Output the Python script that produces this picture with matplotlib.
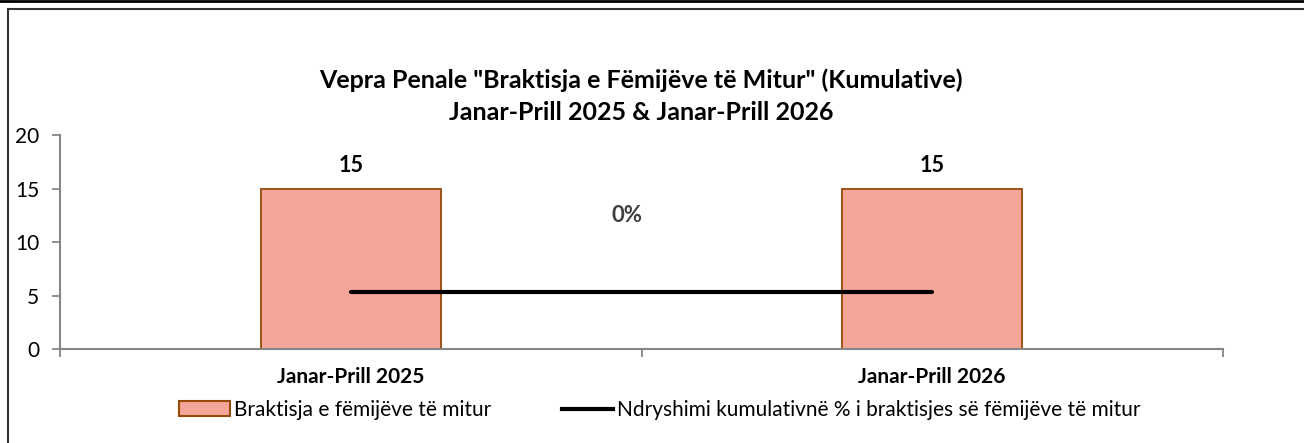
import matplotlib
matplotlib.use("Agg")
import matplotlib.pyplot as plt
from matplotlib.lines import Line2D
from matplotlib.patches import Patch

plt.rcParams['font.family'] = ['Lato', 'DejaVu Sans']

categories = ["Janar-Prill 2025", "Janar-Prill 2026"]
values = [15, 15]
pct_change = [0, 0]
pct_label = "0%"
title_lines = ['Vepra Penale "Braktisja e Fëmijëve të Mitur" (Kumulative)',
               'Janar-Prill 2025 & Janar-Prill 2026']
bar_name = "Braktisja e fëmijëve të mitur"
line_name = "Ndryshimi kumulativnë % i braktisjes së fëmijëve të mitur"

W, H = 1304, 443
fig = plt.figure(figsize=(W / 100, H / 100), dpi=100)
ax = fig.add_axes([60 / W, 1 - 349 / H, (1223 - 60) / W, (349 - 135) / H])

x = list(range(len(categories)))
bar_color = "#F4A69A"
edge_color = "#984807"
ax.bar(x, values, width=0.31, color=bar_color, edgecolor=edge_color, linewidth=1.3, zorder=2)
ax.set_xlim(-0.5, len(categories) - 0.5)
ax.set_ylim(0, 20)
ax.set_yticks([0, 5, 10, 15, 20])
ax.set_xticks([-0.5, 0.5, 1.5])
ax.set_xticklabels([])
for s in ["top", "right"]:
    ax.spines[s].set_visible(False)
for s in ["left", "bottom"]:
    ax.spines[s].set_color("#868686")
    ax.spines[s].set_linewidth(1.5)
ax.tick_params(axis="both", colors="#868686", length=6, width=1.3, labelcolor="black", labelsize=15)
ax.tick_params(axis="y", pad=9)

for xi, v in zip(x, values):
    ax.text(xi, v + 1.2, str(v), ha="center", va="bottom", fontsize=15.5, fontweight="bold")

for xi, c in zip(x, categories):
    ax.text(xi, -1.7, c, ha="center", va="top", fontsize=15, fontweight="bold")

ax2 = ax.twinx()
ax2.plot(x, pct_change, color="black", linewidth=3, solid_capstyle="round", zorder=3)
ax2.set_ylim(-0.266, 0.734)
ax2.axis("off")
ax.text(0.475, 12.5, pct_label, ha="center", va="center", fontsize=16, fontweight="bold", color="#404040")

fig.text(641 / W, 1 - 80 / H, title_lines[0], ha="center", va="center", fontsize=18, fontweight="bold")
fig.text(641 / W, 1 - 112 / H, title_lines[1], ha="center", va="center", fontsize=18, fontweight="bold")

handles = [Patch(facecolor=bar_color, edgecolor=edge_color, linewidth=1.5),
           Line2D([0], [0], color="black", linewidth=3)]
fig.legend(handles, [bar_name, line_name], loc="center", bbox_to_anchor=(660 / W, 1 - 410 / H),
           ncol=2, frameon=False, fontsize=15, handlelength=2.45, handletextpad=0.2, columnspacing=3.4,
           borderpad=0)

fig.add_artist(Line2D([0, 1], [1 - 1 / H, 1 - 1 / H], transform=fig.transFigure, color="black", linewidth=2))
fig.add_artist(Line2D([7.5 / W, 1], [1 - 9 / H, 1 - 9 / H], transform=fig.transFigure, color="#333333", linewidth=1.5))
fig.add_artist(Line2D([7.5 / W, 7.5 / W], [0, 1 - 9 / H], transform=fig.transFigure, color="#333333", linewidth=1.5))

fig.savefig("out.png", dpi=100)
